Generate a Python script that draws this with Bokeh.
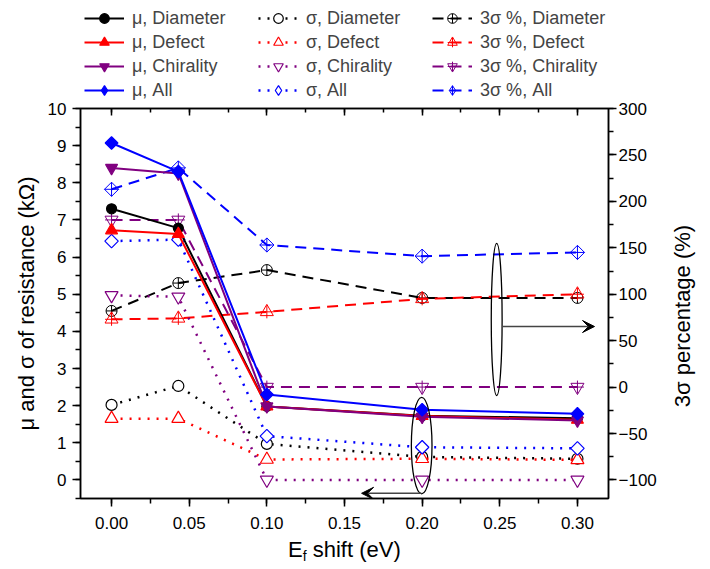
import math
from bokeh.plotting import figure
from bokeh.models import (Range1d, LinearAxis, SingleIntervalTicker, NumeralTickFormatter,
                          CustomJSTickFormatter, Legend, LegendItem, Arrow, VeeHead,
                          ColumnDataSource, Div)
from bokeh.layouts import column, row
from bokeh.embed import file_html
from bokeh.resources import INLINE

# ---------------- data ----------------
ef_shift = [0.0, 0.043, 0.10, 0.20, 0.30]

mu_diameter = [7.30, 6.78, 1.98, 1.73, 1.66]
mu_defect = [6.72, 6.62, 1.98, 1.72, 1.62]
mu_chirality = [8.40, 8.25, 1.98, 1.70, 1.60]
mu_all = [9.07, 8.30, 2.30, 1.89, 1.78]

sigma_diameter = [2.02, 2.53, 0.97, 0.62, 0.57]
sigma_defect = [1.65, 1.65, 0.55, 0.57, 0.54]
sigma_chirality = [4.97, 4.93, 0.0, 0.0, 0.0]
sigma_all = [6.43, 6.47, 1.18, 0.88, 0.85]

pct_diameter = [82, 112, 126, 96, 96]
pct_defect = [73, 74, 81, 95, 100]
pct_chirality = [180, 180, 0, 0, 0]
pct_all = [213, 236, 153, 141, 145]

series_names = ["Diameter", "Defect", "Chirality", "All"]
colors = ["#000000", "#FF0000", "#800080", "#0000FF"]

x_title = 'E<sub style="font-size:14px;vertical-align:-4px;line-height:0;">f</sub> shift (eV)'
y_title = "μ and σ of resistance (kΩ)"
y2_title = "3σ percentage (%)"

# annotation geometry (data coordinates)
ell_big = dict(x=0.248, y=4.32, w=0.007, h=4.1)
ell_small = dict(x=0.1997, y=0.925, w=0.0133, h=2.6)
arrow_right = dict(x0=0.2520, x1=0.3110, y=4.13)
arrow_left = dict(x0=0.1995, x1=0.1610, y=-0.36)

FONT = "Liberation Sans"

# ---------------- legend strip (separate figure on top) ----------------
lg = figure(width=710, height=100, output_backend="svg", toolbar_location=None,
            x_range=Range1d(0, 1), y_range=Range1d(-1000, -999),
            x_axis_type=None, y_axis_type=None,
            min_border_left=0, min_border_right=0, min_border_top=0, min_border_bottom=0)
lg.xgrid.visible = False
lg.ygrid.visible = False
lg.outline_line_color = None
lg.background_fill_color = "white"
lg.border_fill_color = "white"

# ---------------- main figure ----------------
p = figure(width=670, height=436, output_backend="svg", toolbar_location=None,
           x_range=Range1d(-0.02, 0.32), y_range=Range1d(-0.5, 10),
           min_border_left=80, min_border_right=62, min_border_top=8, min_border_bottom=38)
p.extra_y_ranges = {"pct": Range1d(-120, 300)}
p.xgrid.visible = False
p.ygrid.visible = False
p.outline_line_color = "black"
p.outline_line_width = 1.5
p.background_fill_color = "white"
p.border_fill_color = "white"

for fig in (lg, p):
    if hasattr(fig, "frame_align"):
        fig.frame_align = False


def style_axis(ax):
    ax.axis_line_width = 1.5
    ax.axis_line_color = "black"
    ax.major_tick_line_width = 1.5
    ax.minor_tick_line_width = 1.5
    ax.major_tick_line_color = "black"
    ax.minor_tick_line_color = "black"
    ax.major_tick_out = 8
    ax.major_tick_in = 0
    ax.minor_tick_out = 5
    ax.minor_tick_in = 0
    ax.major_label_text_font = FONT
    ax.major_label_text_font_size = "17px"
    ax.major_label_text_color = "black"
    ax.axis_label_text_font = FONT
    ax.axis_label_text_font_size = "22px"
    ax.axis_label_text_font_style = "normal"
    ax.axis_label_text_color = "black"


xax = p.xaxis[0]
style_axis(xax)
xax.ticker = SingleIntervalTicker(interval=0.05, num_minor_ticks=2)
xax.formatter = NumeralTickFormatter(format="0.00")
xax.major_label_standoff = 10

yax = p.yaxis[0]
style_axis(yax)
yax.ticker = SingleIntervalTicker(interval=1, num_minor_ticks=2)
yax.axis_label = y_title
yax.major_label_standoff = 6
yax.axis_label_standoff = 6

rax = LinearAxis(y_range_name="pct", ticker=SingleIntervalTicker(interval=50, num_minor_ticks=2))
style_axis(rax)
rax.major_label_standoff = 2
p.add_layout(rax, "right")

tax = LinearAxis(ticker=SingleIntervalTicker(interval=0.05, num_minor_ticks=2))
style_axis(tax)
tax.major_tick_out = 0
tax.major_tick_in = 7
tax.minor_tick_out = 0
tax.minor_tick_in = 4
tax.formatter = CustomJSTickFormatter(code="return ''")
tax.major_label_text_font_size = "1px"
tax.major_label_standoff = 0
p.add_layout(tax, "above")

items_mu, items_sigma, items_pct = [], [], []


def add_series(y, label, color, marker, fill, dash, lw, size, angle=0.0, overlay=None,
               y_range_name=None, mlw=1.2, legend_marker=None, legend_size=None):
    kw = {} if y_range_name is None else {"y_range_name": y_range_name}
    src = ColumnDataSource(dict(x=ef_shift, y=y))
    line_kw = dict(line_color=color, line_width=lw, line_dash=dash)
    mark_kw = dict(marker=marker, size=size, angle=angle, line_color=color,
                   fill_color=fill, line_width=mlw)
    over_kw = dict(marker=overlay, size=size, angle=0.0, line_color=color, line_width=mlw)
    p.line("x", "y", source=src, **line_kw, **kw)
    p.scatter("x", "y", source=src, **mark_kw, **kw)
    if overlay is not None:
        p.scatter("x", "y", source=src, **over_kw, **kw)
    # legend proxies in the legend strip (same data, out of that strip's view)
    leg_mark_kw = dict(mark_kw)
    if legend_marker is not None:
        leg_mark_kw.update(marker=legend_marker, size=legend_size, angle=0.0)
    rends = [lg.line("x", "y", source=src, **line_kw),
             lg.scatter("x", "y", source=src, **leg_mark_kw)]
    if overlay is not None:
        rends.append(lg.scatter("x", "y", source=src, **over_kw))
    return LegendItem(label=label, renderers=rends)


# 3 sigma percentage (right axis), dashed
pct_vals = [pct_diameter, pct_defect, pct_chirality, pct_all]
pct_markers = [("circle_cross", 11, 0.0, None, None), ("triangle", 13, 0.0, "cross", None),
               ("inverted_triangle", 13, 0.0, "cross", None),
               ("square_x", 10, math.pi / 4, None, "diamond_cross")]
for name, c, vals, (m, s, a, ov, lm) in zip(series_names, colors, pct_vals, pct_markers):
    items_pct.append(add_series(vals, "3σ %, " + name, c, m, None, "11 7", 2, s, a, ov, "pct", 1.0,
                                legend_marker=lm, legend_size=15))

# sigma (left axis), dotted
sig_vals = [sigma_diameter, sigma_defect, sigma_chirality, sigma_all]
sig_markers = [("circle", 11, 0.0, None), ("triangle", 13, 0.0, None),
               ("inverted_triangle", 13, 0.0, None), ("square", 9.5, math.pi / 4, "diamond")]
for name, c, vals, (m, s, a, lm) in zip(series_names, colors, sig_vals, sig_markers):
    items_sigma.append(add_series(vals, "σ, " + name, c, m, "white", "2 7", 2.5, s, a,
                                  legend_marker=lm, legend_size=15))

# mu (left axis), solid
mu_vals = [mu_diameter, mu_defect, mu_chirality, mu_all]
mu_markers = [("circle", 10, 0.0, None), ("triangle", 12, 0.0, None),
              ("inverted_triangle", 12, 0.0, None), ("square", 9, math.pi / 4, "diamond")]
for name, c, vals, (m, s, a, lm) in zip(series_names, colors, mu_vals, mu_markers):
    items_mu.append(add_series(vals, "μ, " + name, c, m, c, "solid", 2, s, a,
                               legend_marker=lm, legend_size=15))

# annotations: ellipses + arrows
for e in (ell_big, ell_small):
    p.ellipse(x=[e["x"]], y=[e["y"]], width=e["w"], height=e["h"],
              fill_color=None, line_color="black", line_width=1.3)
for a in (arrow_right, arrow_left):
    p.add_layout(Arrow(end=VeeHead(size=12, fill_color="black", line_color="black"),
                       x_start=a["x0"], y_start=a["y"], x_end=a["x1"], y_end=a["y"],
                       line_color="#444444", line_width=1.5))

legend = Legend(items=items_mu + items_sigma + items_pct, location=(84, -2),
                orientation="vertical", nrows=4,
                glyph_width=40, glyph_height=24, label_height=24, label_width=126,
                label_standoff=8, spacing=0, padding=0, margin=0,
                label_text_font=FONT, label_text_font_size="18px",
                border_line_color=None, background_fill_alpha=0)
lg.add_layout(legend, "center")

span_style = ("font-family:'Liberation Sans';font-size:22px;line-height:22px;"
              "color:black;white-space:nowrap;position:absolute;")

right_div = Div(
    text=('<div style="position:relative;width:40px;height:436px;">'
          '<span style="' + span_style + 'left:13px;top:216px;'
          'transform:translate(-50%,-50%) rotate(-90deg);">' + y2_title + '</span></div>'),
    width=40, height=436, margin=0)

title_div = Div(
    text=('<div style="position:relative;width:710px;height:33px;">'
          '<span style="' + span_style + 'left:288px;top:3px;">' + x_title + '</span></div>'),
    width=710, height=33, margin=0)

layout = column(lg, row(p, right_div, spacing=0), title_div, spacing=0)
open("out.html", "w").write(file_html(layout, INLINE))
